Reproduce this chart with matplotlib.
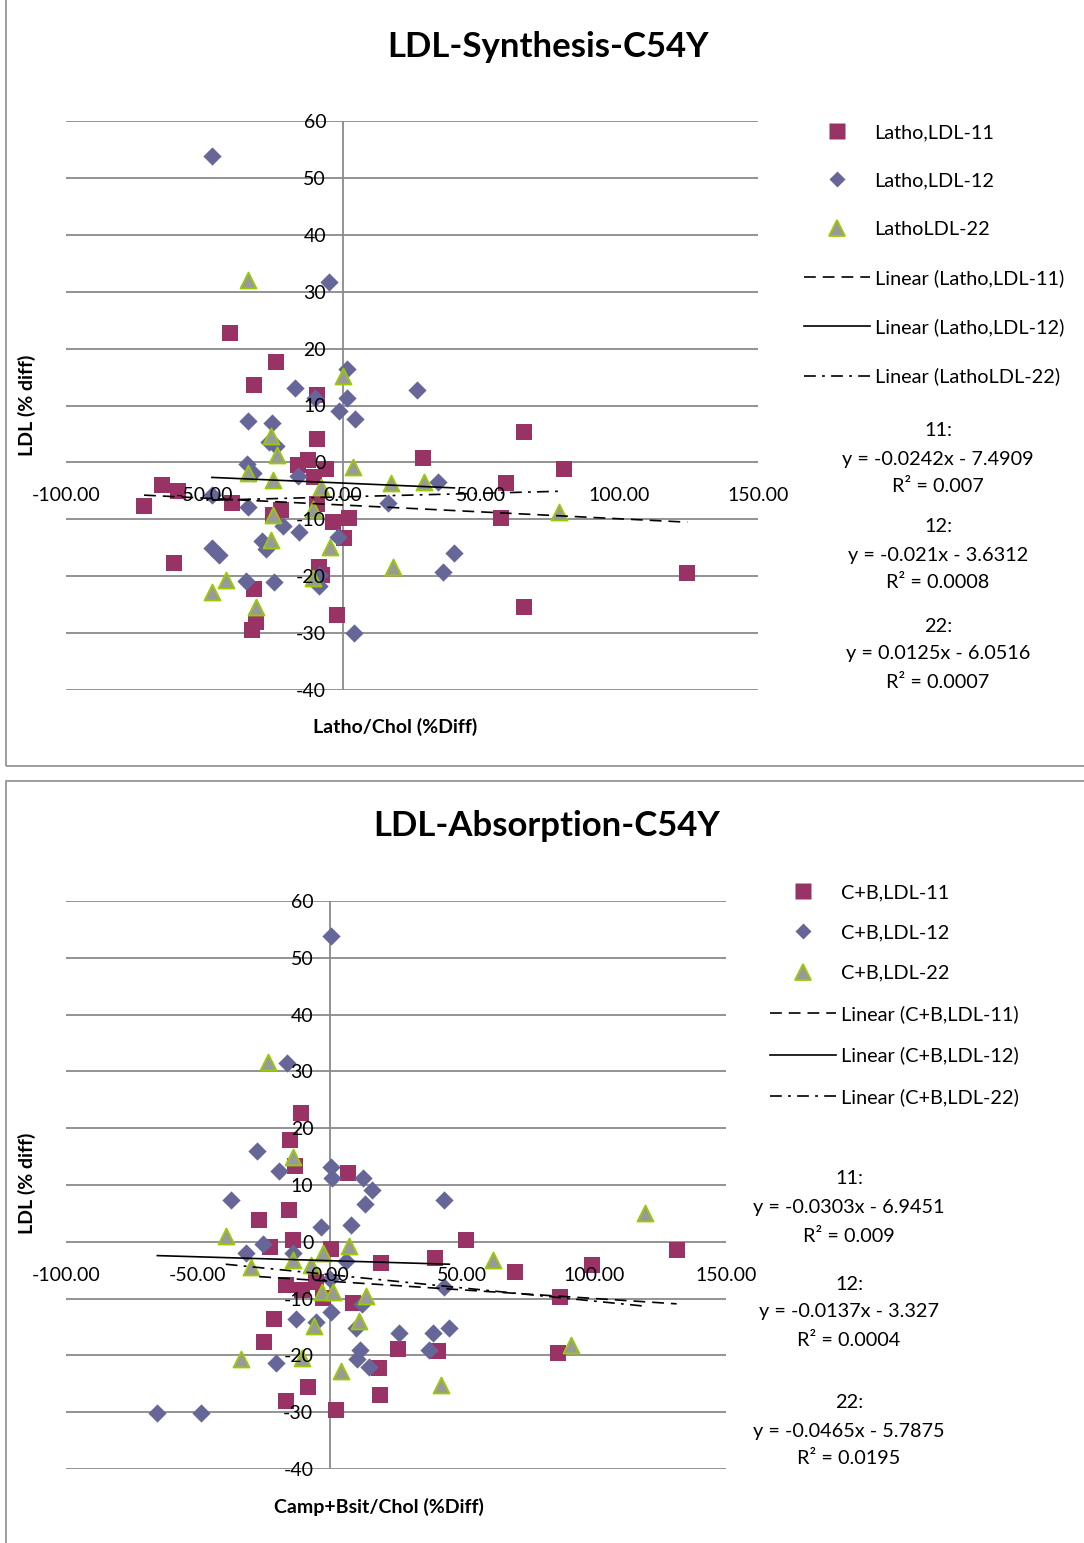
import numpy as np
import matplotlib.pyplot as plt
from matplotlib.lines import Line2D
from matplotlib.patches import Rectangle
from matplotlib.ticker import FormatStrFormatter

plt.rcParams['font.family'] = ['Lato', 'DejaVu Sans']
plt.rcParams['axes.unicode_minus'] = False
plt.rcParams['lines.scale_dashes'] = False

W, H = 1084, 1543

# ---- LDL-Synthesis-C54Y : Latho/Chol (%Diff) vs LDL (% diff) ----
syn_x11 = [-71.8, -65.2, -59.4, -61.1, -40.6, -39.9, -32.1, -24.2, -32.1, -31.5, -32.7,
           -22.3, -25.1, -9.2, -9.2, -16.1, -12.5, -6.0, -10.5, -9.2, -3.6, 2.4, 0.6,
           -8.6, -7.6, -2.0, 28.8, 57.0, 59.0, 65.5, 65.5, 80.0, 124.5]
syn_y11 = [-7.7, -3.9, -5.1, -17.6, 22.7, -7.1, 13.6, 17.7, -22.3, -28.0, -29.5,
           -8.4, -9.3, 11.8, 4.1, -0.5, 0.5, -1.2, -2.5, -7.3, -10.5, -9.7, -13.3,
           -18.3, -19.8, -26.8, 0.8, -9.8, -3.6, 5.4, -25.5, -1.2, -19.4]

syn_x12 = [-47.2, -5.1, -17.2, -10.0, 1.4, 1.4, -1.3, 4.4, 26.9, -34.1, -25.5, -24.1,
           -26.5, -34.5, -32.3, -16.3, -47.3, -34.1, -21.5, -15.7, -29.3, -27.9, -47.3,
           -44.7, -35.1, -24.9, -8.6, -8.6, -1.8, 4.2, 16.2, 34.3, 36.1, 40.3]
syn_y12 = [53.9, 31.7, 13.0, 11.4, 16.4, 11.4, 9.1, 7.7, 12.7, 7.2, 7.0, 2.8,
           3.6, -0.2, -1.9, -2.4, -5.7, -7.9, -11.2, -12.2, -13.9, -15.2, -15.1,
           -16.2, -20.8, -21.0, -19.8, -21.8, -13.1, -30.0, -7.1, -3.5, -19.3, -16.0]

syn_x22 = [-34.1, 0.2, -25.9, -23.9, -34.1, -25.1, -7.9, 3.8, 17.3, 29.2, -25.1, -10.6,
           -25.9, -4.6, 18.2, -10.7, -42.3, -47.2, -31.5, 78.2]
syn_y22 = [32.0, 15.1, 4.6, 1.3, -1.8, -3.1, -4.3, -0.8, -3.7, -3.4, -9.2, -8.2,
           -13.6, -14.8, -18.3, -20.4, -20.7, -22.7, -25.4, -8.7]

syn_slope = [-0.0242, -0.021, 0.0125]
syn_icept = [-7.4909, -3.6312, -6.0516]
syn_r2 = [0.007, 0.0008, 0.0007]

# ---- LDL-Absorption-C54Y : Camp+Bsit/Chol (%Diff) vs LDL (% diff) ----
abs_x11 = [-11.0, -15.0, -13.3, 6.7, -15.4, -26.8, -14.1, -22.7, 0.4, -16.7, -10.7,
           -5.4, -2.5, 8.6, -21.1, -24.9, -16.7, -8.4, 2.3, 18.7, 18.9, 25.6, 19.3,
           39.8, 51.4, 41.0, 70.1, 87.1, 99.1, 131.3, 86.5]
abs_y11 = [22.6, 17.9, 13.3, 12.1, 5.6, 3.8, 0.3, -0.9, -1.2, -7.6, -8.5,
           -7.0, -9.9, -10.8, -13.6, -17.6, -28.0, -25.5, -29.6, -22.3, -27.0, -18.8, -3.8,
           -2.9, 0.4, -19.3, -5.3, -9.7, -4.1, -1.4, -19.6]

abs_x12 = [0.3, -16.4, -27.5, -19.2, 0.3, 0.9, 12.6, 15.8, 13.3, 43.3, -37.6, -3.5,
           8.0, -25.5, -31.9, -13.9, 6.2, 0.0, 43.2, 12.3, 0.3, -12.7, -5.3, 9.8,
           26.3, 39.1, 45.2, 37.6, 11.4, 10.1, 14.8, -20.5, -65.4, -49.0]
abs_y12 = [53.8, 31.5, 16.0, 12.5, 13.1, 11.3, 11.3, 9.1, 6.7, 7.3, 7.4, 2.6,
           3.0, -0.3, -2.0, -2.0, -3.4, -6.5, -8.0, -11.0, -12.3, -13.6, -14.1, -15.2,
           -16.0, -16.1, -15.2, -19.0, -19.0, -20.7, -22.0, -21.4, -30.2, -30.2]

abs_x22 = [-23.6, -14.1, -39.5, -29.9, -13.9, -7.2, -2.8, 7.3, -3.1, 1.3, 13.6, 11.1,
           -5.9, -33.7, -10.7, 4.0, 42.0, 61.6, 119.3, 91.2]
abs_y22 = [31.7, 15.0, 1.0, -4.4, -3.2, -4.1, -1.9, -0.7, -8.8, -8.8, -9.5, -13.9,
           -14.9, -20.7, -20.4, -22.7, -25.2, -3.2, 5.0, -18.2]

abs_slope = [-0.0303, -0.0137, -0.0465]
abs_icept = [-6.9451, -3.327, -5.7875]
abs_r2 = [0.009, 0.0004, 0.0195]

x_ticks = [-100, -50, 0, 50, 100, 150]
y_ticks = [-40, -30, -20, -10, 0, 10, 20, 30, 40, 50, 60]

SQ = dict(marker='s', s=11.5 ** 2, c='#993366', linewidths=0)
DM = dict(marker='D', s=9.3 ** 2, c='#666699', linewidths=0)
TR = dict(marker='^', s=11.5 ** 2, facecolors='#999999', edgecolors='#99CC00', linewidths=1.3)
FIT_STYLE = [dict(dashes=(8.5, 5)), dict(ls='-'), dict(dashes=(8.5, 4.5, 2, 4.5))]
GRID = '#8a8a8a'
FS = 14.3


def fx(px):
    return px / W


def fy(py):
    return 1 - py / H


def draw_chart(ax, series, slopes, icepts):
    for y in y_ticks:
        ax.axhline(y, color=GRID, lw=1.3, zorder=0.5)
    ax.axvline(0, color=GRID, lw=1.3, zorder=0.5)
    styles = [SQ, DM, TR]
    for (xs, ys), st in zip(series, styles):
        ax.scatter(xs, ys, zorder=3, **st)
    # linear trendlines over each series' x range
    for (xs, ys), m, b, ls in zip(series, slopes, icepts, FIT_STYLE):
        xx = np.array([min(xs), max(xs)])
        ax.plot(xx, m * xx + b, color='black', lw=1.2, zorder=4, **ls)

    ax.set_xlim(-100, 150)
    ax.set_ylim(-40, 60)
    ax.set_xticks(x_ticks)
    ax.set_yticks(y_ticks)
    ax.xaxis.set_major_formatter(FormatStrFormatter('%.2f'))
    for sp in ax.spines.values():
        sp.set_visible(False)
    ax.spines['bottom'].set_position(('data', 0))
    ax.spines['left'].set_position(('data', 0))
    ax.tick_params(axis='both', length=0, labelsize=14)
    ax.tick_params(axis='x', pad=18)
    ax.tick_params(axis='y', pad=12)
    ax.set_zorder(1)
    ax.xaxis.set_zorder(5)
    ax.yaxis.set_zorder(5)
    ax.patch.set_visible(False)


def add_legend(ax, names, anchor, spacing):
    handles = [
        Line2D([], [], ls='none', marker='s', ms=11, color='#993366', mec='none'),
        Line2D([], [], ls='none', marker='D', ms=8.5, color='#666699', mec='none'),
        Line2D([], [], ls='none', marker='^', ms=11, mfc='#999999', mec='#99CC00', mew=1.3),
    ]
    for ls in FIT_STYLE:
        handles.append(Line2D([], [], color='black', lw=1.2, **ls))
    labels = names + ['Linear (%s)' % n for n in names]
    ax.legend(handles, labels, loc='upper left', bbox_to_anchor=anchor,
              bbox_transform=ax.figure.transFigure, frameon=False, fontsize=FS,
              handlelength=3.3, handletextpad=0.25, labelspacing=spacing,
              borderpad=0, borderaxespad=0)


def add_equations(fig, cx, rows, slopes, icepts, r2s):
    tags = ['11:', '12:', '22:']
    for (r0, r1, r2), tag, m, b, r in zip(rows, tags, slopes, icepts, r2s):
        fig.text(fx(cx), fy(r0), tag, ha='center', va='center', fontsize=FS)
        fig.text(fx(cx), fy(r1), 'y = %sx - %s' % (m, abs(b)), ha='center', va='center', fontsize=FS)
        fig.text(fx(cx), fy(r2), 'R² = %s' % r, ha='center', va='center', fontsize=FS)


fig = plt.figure(figsize=(W / 100, H / 100), dpi=100)

# chart frames
fig.patches.append(Rectangle((fx(6), fy(766)), fx(1100), fy(-10) - fy(766),
                             transform=fig.transFigure, fill=False, ec='#8c8c8c', lw=1.2))
fig.patches.append(Rectangle((fx(6), fy(1560)), fx(1100), fy(781) - fy(1560),
                             transform=fig.transFigure, fill=False, ec='#8c8c8c', lw=1.2))

ax1 = fig.add_axes([fx(66), fy(690), fx(758 - 66), fy(121) - fy(690)])
draw_chart(ax1, [(syn_x11, syn_y11), (syn_x12, syn_y12), (syn_x22, syn_y22)], syn_slope, syn_icept)
add_legend(ax1, ['Latho,LDL-11', 'Latho,LDL-12', 'LathoLDL-22'], (fx(804), fy(124)), 1.58)
add_equations(fig, 938, [(430, 459, 487), (527, 555, 583), (626, 654, 682)],
              syn_slope, syn_icept, syn_r2)
fig.text(fx(548), fy(47), 'LDL-Synthesis-C54Y', ha='center', va='center', fontsize=25, fontweight='bold')
fig.text(fx(27), fy(405), 'LDL (% diff)', ha='center', va='center', rotation=90, fontsize=14, fontweight='bold')
fig.text(fx(395), fy(727), 'Latho/Chol (%Diff)', ha='center', va='center', fontsize=14, fontweight='bold')

ax2 = fig.add_axes([fx(66), fy(1469), fx(726 - 66), fy(901) - fy(1469)])
draw_chart(ax2, [(abs_x11, abs_y11), (abs_x12, abs_y12), (abs_x22, abs_y22)], abs_slope, abs_icept)
add_legend(ax2, ['C+B,LDL-11', 'C+B,LDL-12', 'C+B,LDL-22'], (fx(770), fy(884)), 1.18)
add_equations(fig, 849, [(1179, 1208, 1236), (1284, 1312, 1341), (1402, 1431, 1459)],
              abs_slope, abs_icept, abs_r2)
fig.text(fx(547), fy(826), 'LDL-Absorption-C54Y', ha='center', va='center', fontsize=25, fontweight='bold')
fig.text(fx(27), fy(1183), 'LDL (% diff)', ha='center', va='center', rotation=90, fontsize=14, fontweight='bold')
fig.text(fx(379), fy(1507), 'Camp+Bsit/Chol (%Diff)', ha='center', va='center', fontsize=14, fontweight='bold')

fig.savefig('out.png', dpi=100)
